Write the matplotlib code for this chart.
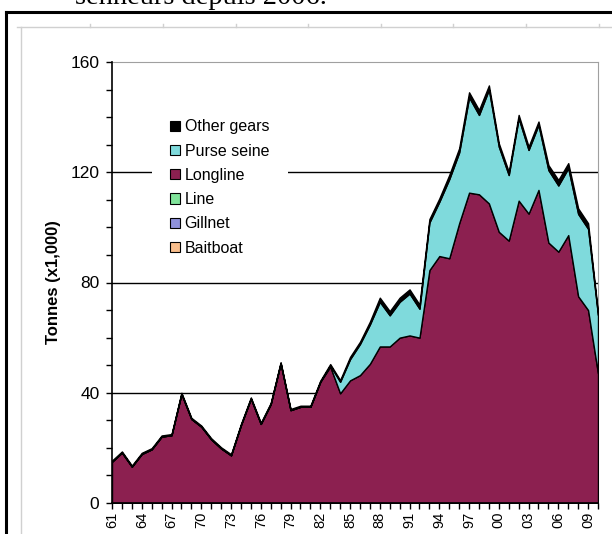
import matplotlib
matplotlib.use("Agg")
import matplotlib.pyplot as plt
from matplotlib.patches import Patch
from matplotlib.lines import Line2D
import numpy as np

years = list(range(1961, 2011))

longline = [15.0, 18.3, 13.2, 17.8, 19.5, 24.1, 24.6, 39.6, 30.5, 27.7,
            23.1, 19.8, 17.3, 28.3, 37.9, 28.7, 35.9, 50.7, 33.7, 34.9,
            34.9, 44.0, 49.5, 39.8, 44.5, 46.4, 50.5, 56.8, 56.8, 60.0,
            60.8, 60.0, 84.5, 89.6, 88.8, 101.5, 112.6, 112.0, 108.7, 98.4,
            95.2, 109.7, 105.0, 113.6, 94.5, 91.2, 97.2, 75.0, 70.0, 47.0]

purse_seine = [0, 0, 0, 0, 0, 0, 0, 0, 0, 0,
               0, 0, 0, 0, 0, 0, 0, 0, 0, 0,
               0, 0, 0.4, 4.2, 7.7, 11.3, 14.3, 16.2, 11.3, 13.0,
               15.2, 10.5, 17.3, 19.7, 28.7, 25.7, 34.6, 28.8, 41.3, 30.9,
               23.8, 29.9, 23.1, 23.6, 26.3, 24.0, 24.3, 29.9, 29.5, 21.2]

other_gears = [0.4, 0.4, 0.4, 0.4, 0.4, 0.4, 0.4, 0.4, 0.4, 0.4,
               0.4, 0.4, 0.4, 0.4, 0.4, 0.4, 0.4, 0.4, 0.4, 0.4,
               0.4, 0.4, 0.5, 0.6, 0.8, 0.8, 1.0, 1.5, 1.5, 1.5,
               1.5, 1.5, 1.2, 1.2, 1.5, 1.5, 1.8, 1.8, 1.5, 1.2,
               1.2, 1.2, 1.2, 1.2, 1.8, 2.0, 1.8, 2.0, 2.0, 0.8]

line = [0.0] * 50
gillnet = [0.0] * 50
baitboat = [0.0] * 50

series_names = ["Baitboat", "Gillnet", "Line", "Longline", "Purse seine", "Other gears"]
series_colors = ["#F9BE8C", "#8F92DC", "#80E39A", "#8C2050", "#7FDADC", "#000000"]

xtick_labels = ["61", "64", "67", "70", "73", "76", "79", "82", "85", "88", "91",
                "94", "97", "00", "03", "06", "09"]
yticks = [0, 40, 80, 120, 160]

plt.rcParams['font.family'] = ['Liberation Sans', 'DejaVu Sans']

W, H = 612, 534
fig = plt.figure(figsize=(W / 100, H / 100), dpi=100)
fig.patch.set_facecolor("white")

# decorative page elements
fig.text(75 / W, 1 - 4.5 / H, "senneurs depuis 2006.", family="Liberation Serif",
         fontsize=20.5, va="baseline", ha="left")
fig.add_artist(Line2D([6 / W, 6 / W], [0, 1 - 12 / H], color="black", lw=2.2,
                      transform=fig.transFigure))
fig.add_artist(Line2D([6 / W, 1], [1 - 12 / H, 1 - 12 / H], color="black", lw=2.2,
                      transform=fig.transFigure))
fig.add_artist(Line2D([17 / W, 1], [1 - 27 / H, 1 - 27 / H], color="#D0D0D0", lw=1,
                      transform=fig.transFigure))
fig.add_artist(Line2D([21 / W, 21 / W], [0, 1 - 27 / H], color="#D0D0D0", lw=1,
                      transform=fig.transFigure))
for xp in [90, 163, 236, 308, 381, 453, 526, 599]:
    fig.add_artist(Line2D([xp / W, xp / W], [1 - 27 / H, 1 - 24 / H], color="#D0D0D0",
                          lw=1, transform=fig.transFigure))

ax = fig.add_axes([112 / W, 1 - 503 / H, (598 - 112) / W, (503 - 62) / H])

ys = [baitboat, gillnet, line, longline, purse_seine, other_gears]
ax.stackplot(years, *ys, colors=series_colors, edgecolor="black", linewidth=1.0,
             zorder=3)

ax.set_xlim(1961, 2010)
ax.set_ylim(0, 160)

for v in [40, 80, 120]:
    ax.axhline(v, color="black", lw=1.0, zorder=1)

ax.set_yticks(yticks)
ax.set_yticks(np.arange(0, 161, 10), minor=True)
ax.set_yticklabels([str(v) for v in yticks], fontsize=12.5)
ax.set_xticks(list(range(1961, 2010, 3)))
ax.set_xticks(years, minor=True)
ax.set_xticklabels(xtick_labels, rotation=90, fontsize=10.5)
ax.tick_params(axis="both", which="both", direction="out", length=4, width=1,
               color="black")
ax.tick_params(axis="y", which="major", pad=5)
ax.tick_params(axis="x", which="major", pad=2)

ax.spines["left"].set_color("black")
ax.spines["bottom"].set_color("black")
ax.spines["left"].set_linewidth(1.2)
ax.spines["bottom"].set_linewidth(1.2)
ax.spines["top"].set_color("#A0A0A0")
ax.spines["right"].set_color("#A0A0A0")
for s in ["left", "bottom"]:
    ax.spines[s].set_zorder(5)

ax.set_ylabel("Tonnes (x1,000)", fontsize=12, fontweight="bold", labelpad=7)

handles = [Patch(facecolor=c, edgecolor="black", linewidth=0.8, label=n)
           for n, c in zip(series_names, series_colors)]
handles = handles[::-1]
leg = ax.legend(handles=handles, loc="upper left",
                bbox_to_anchor=((152 - 112) / 486, (503 - 101) / 441),
                frameon=True, fancybox=False, edgecolor="none", facecolor="white",
                framealpha=1, fontsize=11.5, handlelength=0.6, handleheight=0.6,
                handletextpad=0.3, labelspacing=0.58, borderpad=1.15,
                borderaxespad=0)
leg.set_zorder(4)

fig.savefig("out.png", dpi=100)
